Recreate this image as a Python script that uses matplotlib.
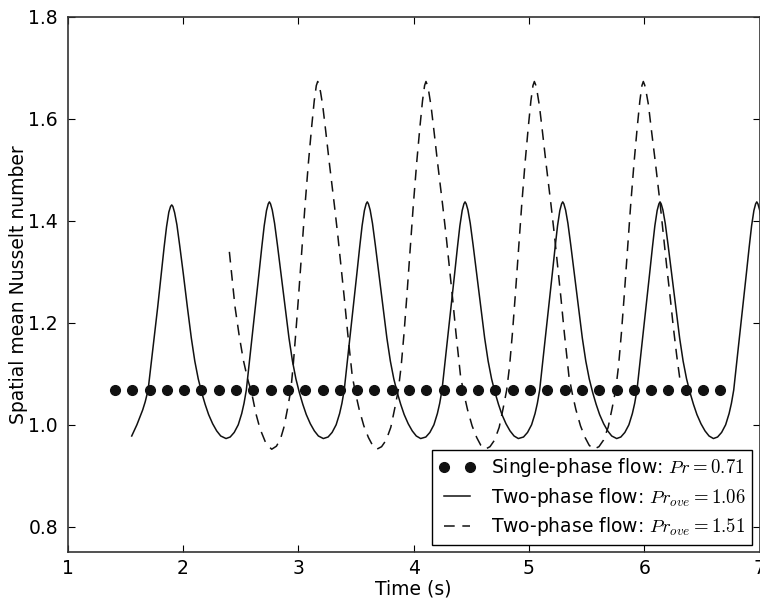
import matplotlib
matplotlib.use('Agg')
import matplotlib.pyplot as plt

plt.rcParams['font.family'] = 'DejaVu Sans'
plt.rcParams['mathtext.fontset'] = 'cm'
plt.rcParams['font.size'] = 13.5

# single-phase flow, Pr = 0.71 (constant)
single_t = [1.41, 1.56, 1.71, 1.86, 2.01, 2.16, 2.31, 2.46, 2.61, 2.76, 2.91, 3.06,
            3.21, 3.36, 3.51, 3.66, 3.81, 3.96, 4.11, 4.26, 4.41, 4.56, 4.71, 4.86,
            5.01, 5.16, 5.31, 5.46, 5.61, 5.76, 5.91, 6.06, 6.21, 6.36, 6.51, 6.66]
single_nu = [1.068] * len(single_t)

# two-phase flow, Pr_ove = 1.06
solid_t = [
    1.555, 1.600, 1.650, 1.672, 1.697, 1.720, 1.745, 1.780, 1.812, 1.836, 1.857, 1.877, 1.892, 1.902,
    1.912, 1.927, 1.947, 1.972, 2.002, 2.037, 2.072, 2.102, 2.132, 2.162, 2.192, 2.222, 2.257, 2.292,
    2.327, 2.373,
    2.409, 2.444, 2.479, 2.509, 2.529, 2.549, 2.571, 2.594, 2.627, 2.659, 2.683, 2.704, 2.724, 2.739,
    2.749, 2.759, 2.774, 2.794, 2.819, 2.849, 2.884, 2.919, 2.949, 2.979, 3.009, 3.039, 3.069, 3.104,
    3.139, 3.174, 3.217,
    3.258, 3.293, 3.328, 3.358, 3.378, 3.398, 3.420, 3.443, 3.476, 3.508, 3.532, 3.553, 3.573, 3.588,
    3.598, 3.608, 3.623, 3.643, 3.668, 3.698, 3.733, 3.768, 3.798, 3.828, 3.858, 3.888, 3.918, 3.953,
    3.988, 4.023, 4.061,
    4.106, 4.141, 4.176, 4.206, 4.226, 4.246, 4.268, 4.291, 4.324, 4.356, 4.380, 4.401, 4.421, 4.436,
    4.446, 4.456, 4.471, 4.491, 4.516, 4.546, 4.581, 4.616, 4.646, 4.676, 4.706, 4.736, 4.766, 4.801,
    4.836, 4.871, 4.908,
    4.953, 4.988, 5.023, 5.053, 5.073, 5.093, 5.115, 5.138, 5.171, 5.203, 5.227, 5.248, 5.268, 5.283,
    5.293, 5.303, 5.318, 5.338, 5.363, 5.393, 5.428, 5.463, 5.493, 5.523, 5.553, 5.583, 5.613, 5.648,
    5.683, 5.718, 5.761,
    5.797, 5.832, 5.867, 5.897, 5.917, 5.937, 5.959, 5.982, 6.015, 6.047, 6.071, 6.092, 6.112, 6.127,
    6.137, 6.147, 6.162, 6.182, 6.207, 6.237, 6.272, 6.307, 6.337, 6.367, 6.397, 6.427, 6.457, 6.492,
    6.527, 6.562, 6.600,
    6.636, 6.671, 6.706, 6.736, 6.756, 6.776, 6.798, 6.821, 6.854, 6.886, 6.910, 6.931, 6.951, 6.966,
    6.976, 6.986, 7.001, 7.021, 7.046]
solid_nu = [
    0.978, 1.000, 1.029, 1.045, 1.068, 1.113, 1.162, 1.230, 1.297, 1.348, 1.388, 1.417, 1.428, 1.431,
    1.428, 1.416, 1.392, 1.350, 1.297, 1.232, 1.170, 1.125, 1.090, 1.063, 1.040, 1.020, 1.002, 0.988,
    0.978, 0.973,
    0.976, 0.985, 1.000, 1.022, 1.042, 1.068, 1.113, 1.162, 1.230, 1.297, 1.348, 1.390, 1.420, 1.433,
    1.437, 1.433, 1.421, 1.395, 1.352, 1.297, 1.232, 1.170, 1.125, 1.090, 1.063, 1.040, 1.020, 1.002,
    0.988, 0.978, 0.973,
    0.976, 0.985, 1.000, 1.022, 1.042, 1.068, 1.113, 1.162, 1.230, 1.297, 1.348, 1.390, 1.420, 1.433,
    1.437, 1.433, 1.421, 1.395, 1.352, 1.297, 1.232, 1.170, 1.125, 1.090, 1.063, 1.040, 1.020, 1.002,
    0.988, 0.978, 0.973,
    0.976, 0.985, 1.000, 1.022, 1.042, 1.068, 1.113, 1.162, 1.230, 1.297, 1.348, 1.390, 1.420, 1.433,
    1.437, 1.433, 1.421, 1.395, 1.352, 1.297, 1.232, 1.170, 1.125, 1.090, 1.063, 1.040, 1.020, 1.002,
    0.988, 0.978, 0.973,
    0.976, 0.985, 1.000, 1.022, 1.042, 1.068, 1.113, 1.162, 1.230, 1.297, 1.348, 1.390, 1.420, 1.433,
    1.437, 1.433, 1.421, 1.395, 1.352, 1.297, 1.232, 1.170, 1.125, 1.090, 1.063, 1.040, 1.020, 1.002,
    0.988, 0.978, 0.973,
    0.976, 0.985, 1.000, 1.022, 1.042, 1.068, 1.113, 1.162, 1.230, 1.297, 1.348, 1.390, 1.420, 1.433,
    1.437, 1.433, 1.421, 1.395, 1.352, 1.297, 1.232, 1.170, 1.125, 1.090, 1.063, 1.040, 1.020, 1.002,
    0.988, 0.978, 0.973,
    0.976, 0.985, 1.000, 1.022, 1.042, 1.068, 1.113, 1.162, 1.230, 1.297, 1.348, 1.390, 1.420, 1.433,
    1.437, 1.433, 1.421, 1.395, 1.352]

# two-phase flow, Pr_ove = 1.51
dashed_t = [
    2.402, 2.451, 2.487, 2.523, 2.560, 2.596, 2.632, 2.668, 2.720, 2.769,
    2.810, 2.845, 2.875, 2.905, 2.935, 2.955, 2.978, 3.003, 3.028, 3.058, 3.088, 3.116, 3.138, 3.156,
    3.168, 3.180, 3.193, 3.212, 3.238, 3.268, 3.313, 3.343, 3.368, 3.398, 3.428, 3.468, 3.498, 3.528,
    3.568, 3.608, 3.643, 3.680,
    3.722, 3.762, 3.802, 3.837, 3.867, 3.892, 3.917, 3.942, 3.967, 3.997, 4.027, 4.055, 4.077, 4.095,
    4.107, 4.119, 4.132, 4.151, 4.177, 4.207, 4.252, 4.282, 4.307, 4.337, 4.367, 4.407, 4.437, 4.467,
    4.507, 4.547, 4.582, 4.620,
    4.662, 4.702, 4.742, 4.777, 4.807, 4.832, 4.857, 4.882, 4.907, 4.937, 4.967, 4.995, 5.017, 5.035,
    5.047, 5.059, 5.072, 5.091, 5.117, 5.147, 5.192, 5.222, 5.247, 5.277, 5.307, 5.347, 5.377, 5.407,
    5.447, 5.487, 5.522, 5.560,
    5.607, 5.647, 5.687, 5.722, 5.752, 5.777, 5.802, 5.827, 5.852, 5.882, 5.912, 5.940, 5.962, 5.980,
    5.992, 6.004, 6.017, 6.036, 6.062, 6.094, 6.137, 6.165, 6.195, 6.225, 6.252, 6.282, 6.310]
dashed_nu = [
    1.339, 1.231, 1.175, 1.127, 1.090, 1.062, 1.022, 0.992, 0.963, 0.952,
    0.958, 0.972, 0.995, 1.030, 1.068, 1.115, 1.180, 1.255, 1.335, 1.430, 1.515, 1.585, 1.635, 1.665,
    1.673, 1.666, 1.652, 1.625, 1.575, 1.515, 1.430, 1.370, 1.315, 1.250, 1.180, 1.095, 1.060, 1.030,
    0.998, 0.975, 0.960, 0.952,
    0.957, 0.970, 0.995, 1.033, 1.068, 1.115, 1.180, 1.255, 1.335, 1.430, 1.515, 1.585, 1.635, 1.665,
    1.673, 1.666, 1.652, 1.625, 1.575, 1.515, 1.430, 1.370, 1.315, 1.250, 1.180, 1.095, 1.060, 1.030,
    0.998, 0.975, 0.960, 0.952,
    0.957, 0.970, 0.995, 1.033, 1.068, 1.115, 1.180, 1.255, 1.335, 1.430, 1.515, 1.585, 1.635, 1.665,
    1.673, 1.666, 1.652, 1.625, 1.575, 1.515, 1.430, 1.370, 1.315, 1.250, 1.180, 1.095, 1.060, 1.030,
    0.998, 0.975, 0.960, 0.952,
    0.957, 0.970, 0.995, 1.033, 1.068, 1.115, 1.180, 1.255, 1.335, 1.430, 1.515, 1.585, 1.635, 1.665,
    1.673, 1.666, 1.652, 1.628, 1.578, 1.519, 1.435, 1.375, 1.310, 1.250, 1.192, 1.135, 1.088]

labels = ['Single-phase flow: $Pr=0.71$',
          'Two-phase flow: $Pr_{ove}=1.06$',
          'Two-phase flow: $Pr_{ove}=1.51$']

fig = plt.figure(figsize=(7.6, 6.03), dpi=100)
ax = fig.add_axes([0.0891, 0.0841, 0.9103, 0.8882])

ax.plot(single_t, single_nu, 'o', color='#111111', markersize=7, label=labels[0])
ax.plot(solid_t, solid_nu, '-', color='#111111', lw=1.1, label=labels[1])
ax.plot(dashed_t, dashed_nu, '--', color='#111111', lw=1.1, dashes=(7, 5), label=labels[2])

ax.set_xlim(1, 7)
ax.set_ylim(0.75, 1.8)
ax.set_xticks([1, 2, 3, 4, 5, 6, 7])
ax.set_yticks([0.8, 1.0, 1.2, 1.4, 1.6, 1.8])
ax.set_yticklabels(['0.8', '1.0', '1.2', '1.4', '1.6', '1.8'])
ax.tick_params(direction='in', top=True, right=True, length=5, width=0.8)
ax.tick_params(axis='x', pad=5)
ax.tick_params(axis='y', pad=7)
for s in ax.spines.values():
    s.set_linewidth(1.2)
    s.set_color('#333333')

ax.set_xlabel('Time (s)', labelpad=1)
ax.set_ylabel('Spatial mean Nusselt number', labelpad=0)

leg = ax.legend(loc='lower right', numpoints=2, fancybox=False, framealpha=1,
                edgecolor='black', handlelength=2.0, borderaxespad=0.4,
                labelspacing=0.35, borderpad=0.35, handletextpad=0.8)
leg.get_frame().set_linewidth(1.0)

fig.savefig('out.png', dpi=100)
